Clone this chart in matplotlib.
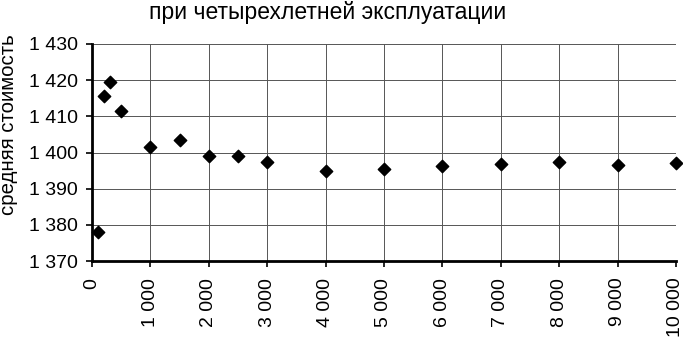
import matplotlib
matplotlib.use('Agg')
import matplotlib.pyplot as plt
from matplotlib.ticker import FuncFormatter

plt.rcParams['font.family'] = ['Liberation Sans', 'DejaVu Sans']

# пробег и средняя стоимость
probeg = [100, 200, 300, 500, 1000, 1500, 2000, 2500, 3000,
          4000, 5000, 6000, 7000, 8000, 9000, 10000]
stoimost = [1378.1, 1415.6, 1419.4, 1411.5, 1401.4, 1403.4, 1399.0, 1399.0, 1397.3,
            1395.0, 1395.4, 1396.2, 1396.8, 1397.4, 1396.6, 1397.1]

title = 'при четырехлетней эксплуатации'
ylabel = 'средняя стоимость'


def fmt(v, pos):
    return '{:,.0f}'.format(v).replace(',', ' ')


fig = plt.figure(figsize=(6.83, 3.38), dpi=100)
ax = fig.add_axes([92/683, 1-261/338, (676-92)/683, (261-44)/338])

ax.scatter(probeg, stoimost, marker='D', s=40, color='black', zorder=3, clip_on=False)

ax.set_xlim(0, 10000)
ax.set_ylim(1370, 1430)
ax.set_xticks(range(0, 10001, 1000))
ax.set_yticks(range(1370, 1431, 10))
ax.xaxis.set_major_formatter(FuncFormatter(fmt))
ax.yaxis.set_major_formatter(FuncFormatter(fmt))
ax.grid(True, color='#555555', linewidth=0.7)
ax.set_axisbelow(True)

for s in ['top', 'right']:
    ax.spines[s].set_visible(False)
for s in ['left', 'bottom']:
    ax.spines[s].set_linewidth(2)
ax.tick_params(axis='x', labelrotation=90, labelsize=14, length=4, width=1.2, pad=8)
ax.tick_params(axis='y', labelsize=14, length=4, width=1.2, pad=6)

fig.text(328/683, 1-13/338, title, ha='center', va='center', fontsize=16.5)
fig.text(9/683, 1-125/338, ylabel, rotation=90, ha='center', va='center', fontsize=14.7)

fig.savefig('out.png', dpi=100)
